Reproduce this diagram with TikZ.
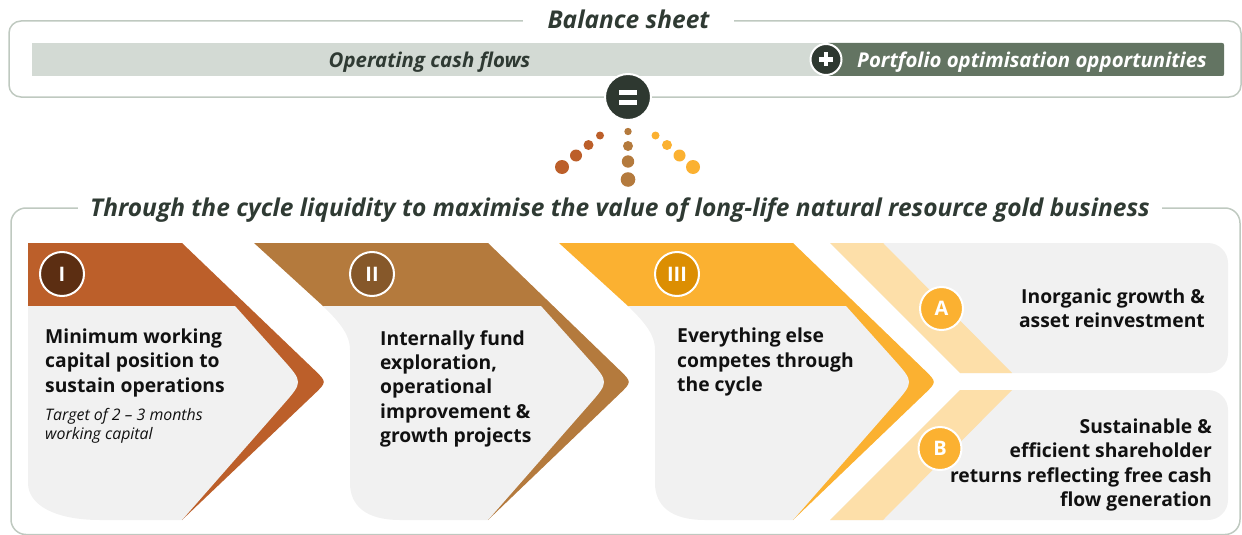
\documentclass[tikz,border=0pt]{standalone}
\usepackage{fontspec}
\setmainfont{Open Sans}
\definecolor{bordergray}{HTML}{BFC9C0}
\definecolor{barlight}{HTML}{D3DAD4}
\definecolor{bardark}{HTML}{637462}
\definecolor{darkcirc}{HTML}{2E3830}
\definecolor{titlecol}{HTML}{2F3A33}
\definecolor{colI}{HTML}{BC5F2A}
\definecolor{circI}{HTML}{5C2E12}
\definecolor{colII}{HTML}{B47A3D}
\definecolor{circII}{HTML}{86582A}
\definecolor{colIII}{HTML}{FBB131}
\definecolor{circIII}{HTML}{DC8E02}
\definecolor{bandlight}{HTML}{FDDFA9}
\definecolor{panelgray}{HTML}{F1F1F1}
\definecolor{textcol}{HTML}{111111}
\newcommand{\mylines}[2]{\begin{tabular}[t]{@{}#1@{}}#2\end{tabular}}
\begin{document}
\begin{tikzpicture}[x=1pt,y=-1pt,
  frame/.style={draw=bordergray, line width=1.5pt},
  panel/.style={fill=panelgray},
  numcirc/.style={circle, draw=white, line width=2pt, minimum size=44pt, inner sep=0pt, text=white, font=\bfseries\fontsize{20}{20}\selectfont},
  signcirc/.style={circle, draw=white, line width=2pt, inner sep=0pt, fill=darkcirc},
  titletext/.style={font=\bfseries\itshape\fontsize{24.5}{28}\selectfont, text=titlecol, inner ysep=0pt},
  bartext/.style={font=\bfseries\itshape\fontsize{20.4}{24}\selectfont, inner sep=0pt},
  body/.style={font=\bfseries\fontsize{19.3}{24.4}\selectfont, text=textcol, inner sep=0pt},
  note/.style={font=\itshape\fontsize{15.9}{19.3}\selectfont, text=textcol, inner sep=0pt}
]
\useasboundingbox (0,0) rectangle (1242,535);

% ---------- top: balance sheet ----------
\draw[frame, rounded corners=12pt] (9,21) rectangle (1241,97);
\node[titletext, fill=white, inner xsep=25pt, anchor=base] (bs) at (628.5,28.5) {Balance sheet};
\fill[barlight] (32,43) rectangle (1224,76);
\fill[bardark, rounded corners=2pt] (826,43) rectangle (1224,76);
\node[bartext, text=titlecol, anchor=base] (ocf) at (429.5,67) {Operating cash flows};
\node[bartext, text=white, anchor=base] (poo) at (1032,67) {Portfolio optimisation opportunities};
\node[signcirc, minimum size=31pt] (plus) at (826,59.5) {};
\fill[white] (819,57.3) rectangle (833,61.7);
\fill[white] (823.8,52.5) rectangle (828.2,66.5);

% ---------- equals ----------
\node[signcirc, minimum size=46pt] (eq) at (628,97) {};
\fill[white] (619,89.5) rectangle (637,94.5);
\fill[white] (619,99.5) rectangle (637,104.5);

% ---------- dots ----------
\fill[colI] (562,167) circle[radius=7pt] (576,155.5) circle[radius=6pt] (588.5,145) circle[radius=5pt] (600,135.5) circle[radius=4pt];
\fill[colII] (628,131.5) circle[radius=3.7pt] (628,146) circle[radius=5pt] (628,161.5) circle[radius=6.2pt] (628,179.5) circle[radius=7.3pt];
\fill[colIII] (655.5,135.5) circle[radius=4pt] (667,145) circle[radius=5pt] (679.5,155.5) circle[radius=6pt] (693,167) circle[radius=7pt];

% ---------- bottom frame ----------
\draw[frame, rounded corners=15pt] (11,208) rectangle (1240,534.5);
\node[titletext, fill=white, inner xsep=12pt, anchor=base] (tc) at (620,216) {Through the cycle liquidity to maximise the value of long-life natural resource gold business};

% ---------- chevron I ----------
\fill[colI] (28,243) -- (182,243) -- (314,369.5) .. controls (327,382) .. (314,394.4) -- (182,520) -- (200,382) -- (28,306) -- cycle;
\fill[panel] (28,306) -- (235,306) -- (283,359.6) .. controls (303,382) .. (283.2,404.6) -- (182,520) -- (100,520) .. controls (55,520) and (28,505) .. (28,483) -- cycle;

% ---------- chevrons II and III ----------
\foreach \dx/\col in {0/colII, 305/colIII}{
\begin{scope}[xshift=\dx pt]
\fill[\col] (254,243) -- (488,243) -- (619,369.5) .. controls (632,382) .. (619,394.4) -- (488,520) -- (505,382) -- (323,306) -- cycle;
\fill[panel] (323,306) -- (541,306) -- (589,359.6) .. controls (609,382) .. (589.2,404.6) -- (488,520) -- (400,520) .. controls (365,520) and (350,505) .. (350,483) -- (350,350) .. controls (350,333) and (337,320) .. (323,306) -- cycle;
\end{scope}}

% ---------- A / B panels ----------
\fill[panel] (830,243) -- (1208,243) .. controls (1219,243) and (1228,252) .. (1228,263) -- (1228,353) .. controls (1228,364) and (1219,373) .. (1208,373) -- (960,373) -- cycle;
\fill[bandlight] (830,243) -- (883,243) -- (1012,373) -- (960,373) -- cycle;
\fill[panel] (960,390) -- (1208,390) .. controls (1219,390) and (1228,399) .. (1228,410) -- (1228,500) .. controls (1228,511) and (1219,520) .. (1208,520) -- (830,520) -- cycle;
\fill[bandlight] (960,390) -- (1012,390) -- (883,520) -- (830,520) -- cycle;

% ---------- number circles ----------
\node[numcirc, fill=circI] (nI) at (62,274) {I};
\node[numcirc, fill=circII] (nII) at (372,274) {II};
\node[numcirc, fill=circIII] (nIII) at (677,274) {III};
\node[numcirc, fill=colIII, minimum size=43pt] (nA) at (941.5,308.5) {A};
\node[numcirc, fill=colIII, minimum size=43pt] (nB) at (940,448.5) {B};

% ---------- texts ----------
\node[body, anchor=base west] (tI) at (45,343.3) {\mylines{l}{Minimum working\\capital position to\\sustain operations}};
\node[note, anchor=base west] (nt) at (45,420) {\mylines{l}{Target of 2 -- 3 months\\working capital}};
\node[body, anchor=base west] (tII) at (380,345) {\mylines{l}{Internally fund\\exploration,\\operational\\improvement \&\\growth projects}};
\node[body, anchor=base west] (tIII) at (677,342.7) {\mylines{l}{Everything else\\competes through\\the cycle}};
\node[body, anchor=base east] (tA) at (1205,303.3) {\mylines{r}{Inorganic growth \&\\asset reinvestment}};
\node[body, anchor=base east] (tB) at (1212,433.3) {\mylines{r}{Sustainable \&\\efficient shareholder\\returns reflecting free cash\\flow generation}};
\end{tikzpicture}
\end{document}
